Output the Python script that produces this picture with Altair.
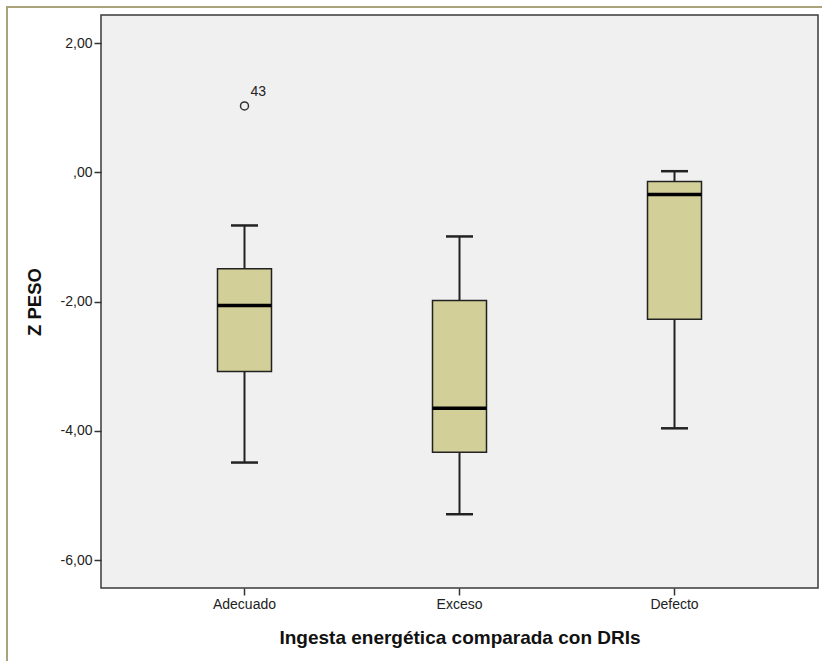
import altair as alt
import pandas as pd

categories = ["Adecuado", "Exceso", "Defecto"]
whisker_low = [-4.49, -5.29, -3.96]
q1 = [-3.08, -4.33, -2.27]
median = [-2.06, -3.65, -0.34]
q3 = [-1.49, -1.98, -0.14]
whisker_high = [-0.82, -0.99, 0.02]

outlier_cat = ["Adecuado"]
outlier_val = [1.03]
outlier_label = ["43"]

y_ticks = [2, 0, -2, -4, -6]

box_df = pd.DataFrame({
    "cat": categories, "low": whisker_low, "q1": q1,
    "med": median, "q3": q3, "high": whisker_high,
})
out_df = pd.DataFrame({"cat": outlier_cat, "val": outlier_val, "lab": outlier_label})

FONT = "Liberation Sans"
BOX_FILL = "#d3cf98"
LINE = "#222222"

xscale = alt.Scale(type="band", domain=categories, paddingInner=0, paddingOuter=0.1674)
yscale = alt.Scale(domain=[-6.432, 2.438], nice=False, zero=False)

x_enc = alt.X(
    "cat:N", scale=xscale, sort=categories,
    axis=alt.Axis(
        title="Ingesta energética comparada con DRIs", labelAngle=0,
        labelFont=FONT, labelFontSize=14, labelColor="#222222", labelPadding=2,
        tickSize=7, tickWidth=1.5, tickColor="#333333", domain=False,
        titleFont=FONT, titleFontSize=19, titleFontWeight="bold", titleColor="#111111",
        titleX=358.5, titleY=49, titleBaseline="middle", titleAlign="center",
    ),
)

y_axis = alt.Axis(
    values=y_ticks, grid=False, domain=False,
    labelExpr="datum.value == 0 ? ',00' : (datum.value < 0 ? '-' : '') + replace(format(abs(datum.value), '.2f'), '.', ',')",
    labelFont=FONT, labelFontSize=14, labelColor="#222222", labelPadding=2,
    tickSize=7, tickWidth=1.5, tickColor="#333333",
    title="Z PESO", titleFont=FONT, titleFontSize=18.5, titleFontWeight="bold",
    titleColor="#111111", titleAngle=-90, titleX=-67, titleY=286.5,
    titleAlign="center", titleBaseline="middle",
)

base = alt.Chart(box_df)

whisker = base.mark_rule(color=LINE, strokeWidth=2, opacity=1).encode(
    x=x_enc, y=alt.Y("low:Q", scale=yscale, axis=y_axis), y2="high:Q"
)
box = base.mark_bar(size=54, fill=BOX_FILL, stroke=LINE, strokeWidth=1.5, opacity=1).encode(
    x=alt.X("cat:N", scale=xscale, sort=categories), y=alt.Y("q1:Q", scale=yscale), y2="q3:Q"
)
med = base.mark_tick(size=54, thickness=3.5, color="#000000", orient="horizontal", opacity=1).encode(
    x=alt.X("cat:N", scale=xscale, sort=categories), y=alt.Y("med:Q", scale=yscale)
)
cap_low = base.mark_tick(size=27, thickness=2.5, color=LINE, orient="horizontal", opacity=1).encode(
    x=alt.X("cat:N", scale=xscale, sort=categories), y=alt.Y("low:Q", scale=yscale)
)
cap_high = base.mark_tick(size=27, thickness=2.5, color=LINE, orient="horizontal", opacity=1).encode(
    x=alt.X("cat:N", scale=xscale, sort=categories), y=alt.Y("high:Q", scale=yscale)
)
outl = alt.Chart(out_df).mark_point(shape="circle", size=64, filled=False, stroke="#333333", strokeWidth=1.5, opacity=1).encode(
    x=alt.X("cat:N", scale=xscale, sort=categories), y=alt.Y("val:Q", scale=yscale)
)
outl_txt = alt.Chart(out_df).mark_text(align="left", baseline="middle", dx=6, dy=-14, font=FONT, fontSize=14, color="#222222").encode(
    x=alt.X("cat:N", scale=xscale, sort=categories), y=alt.Y("val:Q", scale=yscale), text="lab:N"
)

frame_data = alt.Data(values=[{"k": 1}])
frame_top = alt.Chart(frame_data).mark_rule(color="#aaa27a", strokeWidth=2).encode(
    x=alt.value(-95), x2=alt.value(721), y=alt.value(-8)
)
frame_left = alt.Chart(frame_data).mark_rule(color="#aaa27a", strokeWidth=2).encode(
    x=alt.value(-94), y=alt.value(-9), y2=alt.value(646)
)

chart = alt.layer(
    whisker, box, med, cap_low, cap_high, outl, outl_txt, frame_top, frame_left
).properties(
    width=717, height=573,
    autosize=alt.AutoSizeParams(type="none"),
    padding={"left": 101, "top": 15, "right": 4, "bottom": 73},
    background="#ffffff",
).configure_view(
    fill="#f0f0f0", stroke="#3a3a3a", strokeWidth=1.5
)

chart.save("out.html", embed_options={"renderer": "svg", "actions": False})
